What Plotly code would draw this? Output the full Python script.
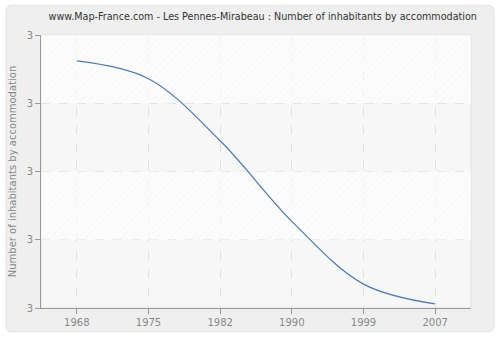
import plotly.graph_objects as go

years = ["1968", "1975", "1982", "1990", "1999", "2007"]
values = [3.162, 3.136, 3.045, 2.927, 2.835, 2.806]
y_ticks = [2.8, 2.9, 3.0, 3.1, 3.2]

title = "www.Map-France.com - Les Pennes-Mirabeau : Number of inhabitants by accommodation"
y_title = "Number of inhabitants by accommodation"

W, H = 500, 340
ml, mr, mt, mb = 40, 29, 35, 30
pw, ph = W - ml - mr, H - mt - mb

idx = list(range(len(years)))
x_range = [-0.5, len(years) - 0.5]

fig = go.Figure()

# hatched background bands between alternating y ticks
for k in (0, 2):
    b0, b1 = y_ticks[-1 - k - 1], y_ticks[-1 - k]
    fig.add_trace(go.Scatter(
        x=[x_range[0], x_range[1], x_range[1], x_range[0], x_range[0]],
        y=[b0, b0, b1, b1, b0],
        mode="lines", line=dict(width=0), fill="toself",
        fillcolor="rgba(255,255,255,0.6)",
        fillpattern=dict(shape="/", fgcolor="#e6e6e6", bgcolor="rgba(255,255,255,0.6)",
                         size=5, solidity=0.12),
        hoverinfo="skip", showlegend=False))

fig.add_trace(go.Scatter(
    x=idx, y=values, mode="lines",
    line=dict(color="#4a7ab5", width=1.2, shape="spline", smoothing=1.0),
    showlegend=False))

def px(xp):
    return (xp - ml) / pw

def py(yp):
    return (H - mb - yp) / ph

# grey rounded card around the plot area (frame with a hole for the plot)
cx0, cx1 = px(5), px(494)
cy0, cy1 = py(334), py(5)
rx, ry = 6 / pw, 6 / ph
outer = (f"M {cx0+rx},{cy0} L {cx1-rx},{cy0} Q {cx1},{cy0} {cx1},{cy0+ry} "
         f"L {cx1},{cy1-ry} Q {cx1},{cy1} {cx1-rx},{cy1} L {cx0+rx},{cy1} "
         f"Q {cx0},{cy1} {cx0},{cy1-ry} L {cx0},{cy0+ry} Q {cx0},{cy0} {cx0+rx},{cy0} Z")
inner = "M 0,0 L 1,0 L 1,1 L 0,1 Z"
fig.add_shape(type="path", xref="paper", yref="paper", path=outer + " " + inner,
              fillrule="evenodd", fillcolor="#efefef",
              line=dict(color="#e2e2e2", width=1), layer="below")

fig.update_layout(
    width=W, height=H,
    margin=dict(l=ml, r=mr, t=mt, b=mb),
    paper_bgcolor="#ffffff",
    plot_bgcolor="#f7f7f7",
    font=dict(family="DejaVu Sans", size=10, color="#888888"),
    title=dict(text=title, x=0.5255, xanchor="center", y=0.95, yanchor="middle",
               font=dict(size=9.6, color="#333333")),
    xaxis=dict(
        range=x_range, tickmode="array", tickvals=idx, ticktext=years,
        showgrid=True, gridcolor="#e0e0e0", griddash="dash", gridwidth=1,
        showline=True, linecolor="#999999", linewidth=1,
        ticks="outside", ticklen=5, tickcolor="#999999",
        zeroline=False, fixedrange=True),
    yaxis=dict(
        range=[y_ticks[0], y_ticks[-1]], tickmode="array", tickvals=y_ticks, tickformat=".0f",
        showgrid=True, gridcolor="#e0e0e0", griddash="dash", gridwidth=1,
        showline=True, linecolor="#999999", linewidth=1,
        ticks="outside", ticklen=5, tickcolor="#999999",
        zeroline=False, fixedrange=True,
        title=dict(text=y_title, font=dict(size=10, color="#888888"), standoff=8)),
)

fig.write_html("out.html", config={"displayModeBar": False})
